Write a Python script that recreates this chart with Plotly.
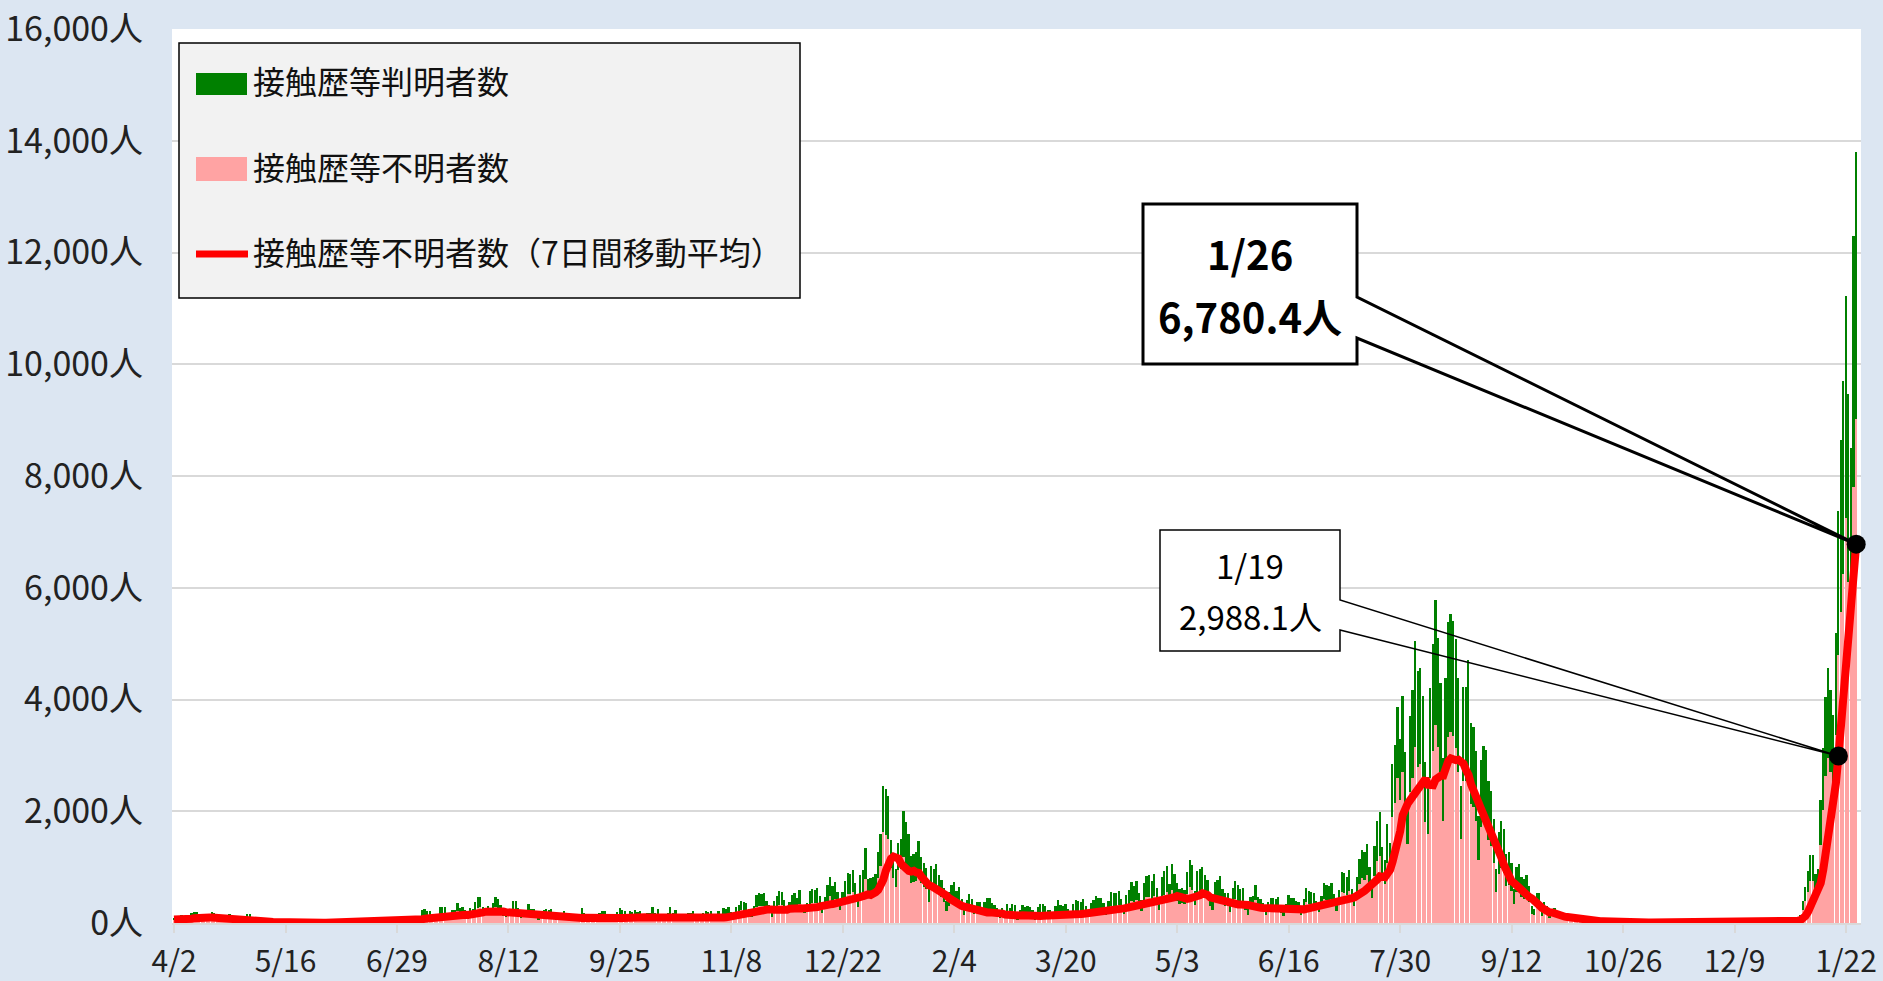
import numpy as np
import pandas as pd
import plotly.graph_objects as go

# ---------------- data ----------------
start_date = "2020-04-02"

# daily total new cases (known + unknown), by month
total_2020 = [
    97, 89, 116, 143, 83, 87, 144, 178, 189, 197, 166, 91, 161, 127, 149, 201, 181, 107, 102, 123, 132, 134, 161, 103, 72, 39, 112, 47, 46,
    165, 154, 91, 87, 57, 38, 23, 39, 36, 22, 15, 28, 10, 30, 9, 14, 5, 10, 5, 5, 11, 3, 2, 14, 8, 10, 11, 15, 22, 14, 5,
    13, 34, 12, 28, 20, 26, 14, 13, 12, 18, 22, 25, 24, 47, 48, 27, 16, 41, 35, 39, 35, 29, 31, 55, 48, 54, 57, 60, 58, 54,
    67, 107, 124, 131, 111, 102, 106, 75, 224, 243, 206, 206, 119, 143, 165, 286, 293, 290, 188, 168, 237, 238, 366, 260, 295, 239, 131, 266, 250, 367, 463,
    472, 292, 258, 309, 263, 360, 462, 429, 331, 197, 188, 222, 206, 389, 385, 260, 161, 207, 186, 339, 258, 256, 212, 95, 182, 236, 250, 226, 247, 148, 100,
    170, 141, 211, 136, 181, 116, 77, 170, 149, 276, 187, 146, 146, 80, 163, 163, 171, 220, 218, 156, 98, 88, 59, 195, 270, 226, 209, 78, 212, 194,
    235, 196, 207, 143, 78, 179, 178, 285, 187, 247, 146, 85, 166, 177, 284, 185, 235, 78, 78, 139, 150, 186, 186, 215, 124, 102, 158, 171, 221, 203, 215,
    87, 87, 209, 122, 269, 242, 294, 189, 157, 293, 317, 393, 374, 352, 255, 180, 298, 493, 534, 522, 539, 391, 314, 186, 401, 481, 570, 561, 418, 311,
    372, 500, 533, 449, 584, 327, 299, 352, 572, 602, 595, 621, 480, 305, 460, 678, 822, 664, 736, 556, 392, 563, 748, 888, 884, 949, 708, 481, 856, 944, 1337,
]
total_2021 = [
    783, 814, 816, 884, 1278, 1591, 2447, 2392, 2268, 1494, 1219, 970, 1433, 1502, 2001, 1809, 1592, 1204, 1240, 1274, 1471, 1175, 1070, 986, 618, 1026, 973, 1064, 868, 769, 633,
    393, 556, 676, 734, 577, 639, 429, 276, 412, 517, 434, 307, 369, 371, 266, 378, 445, 445, 353, 327, 272, 178, 275, 213, 340, 270, 337, 329,
    121, 232, 316, 279, 301, 293, 237, 116, 290, 340, 335, 304, 239, 239, 175, 300, 409, 323, 303, 342, 256, 187, 337, 420, 394, 376, 430, 313, 234, 364, 414,
    475, 440, 446, 355, 249, 399, 555, 545, 537, 570, 421, 306, 510, 591, 729, 667, 759, 543, 405, 711, 843, 861, 759, 876, 635, 425, 828, 925, 1027, 698,
    1050, 879, 708, 609, 621, 591, 907, 1121, 1032, 573, 925, 969, 1010, 854, 772, 542, 419, 732, 766, 843, 614, 539, 535, 340, 620, 743, 684, 614, 629, 402, 260,
    471, 487, 676, 472, 436, 351, 235, 369, 440, 439, 435, 467, 304, 209, 337, 501, 452, 453, 388, 376, 236, 435, 619, 570, 562, 534, 386, 317, 476, 714,
    673, 660, 716, 518, 342, 593, 920, 896, 822, 950, 614, 502, 830, 1149, 1308, 1271, 1410, 1008, 727, 1387, 1832, 1979, 1359, 1128, 1763, 1429, 2848, 3177, 3865, 3300, 4058,
    3058, 2195, 3709, 4166, 5042, 4515, 4566, 4066, 2884, 2612, 4200, 4989, 5773, 5094, 4295, 2962, 4377, 5386, 5534, 5405, 5074, 4392, 2447, 4220, 4228, 4704, 3581, 3500, 3081, 1915, 2909,
    3168, 3099, 2539, 2362, 1853, 968, 1629, 1834, 1675, 1242, 1273, 1067, 611, 1004, 1052, 831, 782, 862, 661, 302, 253, 537, 531, 235, 382, 302, 154, 248, 267, 218,
    200, 196, 161, 87, 149, 144, 143, 138, 82, 60, 49, 77, 72, 62, 57, 66, 40, 29, 36, 41, 36, 26, 32, 19, 17, 29, 36, 21, 24, 23, 22,
    9, 18, 18, 21, 20, 30, 25, 15, 24, 22, 31, 27, 21, 23, 6, 18, 24, 25, 19, 22, 9, 6, 18, 10, 11, 21, 15, 17, 13, 9,
    10, 15, 20, 21, 14, 13, 12, 21, 17, 23, 22, 10, 11, 13, 14, 18, 25, 23, 15, 23, 21, 26, 27, 37, 38, 31, 30, 46, 76, 64, 78,
]
total_2022 = [
    79, 84, 103, 151, 390, 641, 922, 1224, 1223, 871, 962, 2198, 3124, 4051, 4561, 4172, 3719, 5185, 7377, 8638, 9699, 11227, 9468, 8503, 12300, 13800,
]

# daily cases with unknown contact history, by month
unknown_2020 = [
    61, 57, 75, 95, 52, 55, 90, 112, 123, 125, 106, 58, 100, 80, 94, 126, 113, 66, 62, 76, 80, 84, 98, 63, 44, 24, 68, 28, 28,
    95, 88, 52, 48, 32, 21, 13, 22, 19, 12, 8, 15, 6, 16, 5, 7, 3, 5, 3, 2, 5, 1, 1, 7, 4, 5, 5, 8, 12, 7, 3,
    6, 14, 5, 12, 9, 11, 6, 6, 5, 8, 10, 11, 10, 19, 20, 12, 7, 18, 15, 17, 15, 13, 14, 25, 21, 25, 26, 28, 27, 25,
    34, 55, 65, 70, 58, 55, 60, 42, 120, 130, 112, 115, 66, 78, 92, 158, 165, 162, 105, 95, 135, 136, 210, 150, 170, 140, 76, 155, 148, 215, 275,
    285, 180, 160, 188, 160, 218, 280, 262, 200, 120, 113, 133, 125, 235, 232, 158, 97, 124, 112, 205, 155, 153, 128, 57, 108, 140, 150, 136, 148, 89, 60,
    98, 80, 120, 78, 103, 66, 44, 97, 85, 155, 107, 83, 84, 46, 93, 93, 97, 125, 124, 89, 56, 50, 34, 111, 154, 129, 119, 44, 121, 110,
    134, 112, 118, 82, 44, 102, 101, 162, 107, 141, 83, 48, 95, 101, 162, 105, 134, 44, 45, 79, 86, 106, 106, 123, 71, 58, 90, 97, 126, 116, 123,
    50, 50, 119, 70, 153, 138, 168, 108, 89, 167, 181, 224, 213, 201, 145, 103, 170, 281, 304, 298, 307, 223, 179, 106, 229, 274, 325, 320, 238, 177,
    220, 295, 315, 265, 345, 193, 176, 208, 338, 355, 351, 366, 283, 180, 271, 400, 485, 392, 434, 328, 231, 332, 441, 524, 522, 560, 418, 284, 505, 557, 790,
]
unknown_2021 = [
    470, 490, 500, 545, 800, 1020, 1630, 1580, 1500, 980, 800, 640, 940, 960, 1180, 1060, 940, 720, 730, 750, 900, 720, 650, 600, 375, 620, 585, 640, 520, 460, 380,
    220, 300, 360, 390, 305, 335, 225, 145, 215, 265, 225, 160, 190, 190, 138, 195, 230, 228, 180, 168, 140, 92, 142, 110, 175, 140, 172, 168,
    58, 110, 150, 135, 145, 140, 112, 55, 138, 162, 160, 145, 115, 113, 84, 143, 195, 155, 145, 165, 123, 90, 163, 205, 192, 183, 210, 153, 115, 180, 205,
    255, 240, 245, 195, 135, 218, 305, 300, 295, 315, 230, 168, 280, 325, 400, 367, 418, 300, 222, 390, 462, 472, 418, 480, 350, 233, 455, 507, 563, 383,
    590, 495, 400, 343, 350, 332, 515, 640, 590, 325, 528, 553, 578, 487, 440, 308, 238, 418, 436, 480, 350, 307, 305, 193, 353, 425, 390, 350, 358, 229, 148,
    280, 290, 405, 283, 262, 210, 140, 222, 265, 263, 260, 280, 183, 125, 202, 300, 272, 272, 233, 226, 142, 262, 372, 342, 337, 320, 232, 190, 286, 428,
    405, 400, 435, 315, 208, 362, 560, 545, 500, 580, 375, 305, 505, 700, 800, 775, 860, 615, 445, 845, 1115, 1200, 830, 690, 1080, 880, 1900, 2150, 2600, 2200, 2700,
    2000, 1420, 2350, 2600, 3150, 2800, 2850, 2520, 1800, 1600, 2600, 3080, 3550, 3150, 2650, 1830, 2700, 3330, 3420, 3340, 3130, 2700, 1500, 2540, 2540, 2800, 2130, 2080, 1830, 1130, 1720,
    1850, 1800, 1480, 1370, 1070, 560, 880, 980, 900, 660, 680, 570, 340, 560, 590, 465, 435, 480, 370, 168, 140, 300, 295, 130, 212, 168, 86, 138, 148, 120,
    108, 105, 86, 46, 78, 75, 74, 71, 42, 31, 25, 40, 37, 32, 29, 34, 20, 15, 18, 21, 18, 13, 16, 10, 9, 15, 18, 11, 12, 12, 11,
    5, 9, 9, 11, 10, 15, 13, 8, 12, 11, 16, 14, 11, 12, 3, 9, 12, 13, 10, 11, 5, 3, 9, 5, 6, 11, 8, 9, 7, 5,
    5, 8, 10, 11, 7, 7, 6, 11, 9, 12, 11, 5, 6, 7, 7, 9, 13, 12, 8, 12, 11, 14, 14, 20, 21, 17, 17, 26, 42, 36, 44,
]
unknown_2022 = [
    40, 42, 55, 85, 230, 390, 560, 760, 760, 540, 600, 1400, 2030, 2630, 2960, 2710, 2420, 3370, 4797, 5560, 6250, 7240, 6100, 5490, 7800, 9023,
]

series_names = ["接触歴等判明者数", "接触歴等不明者数", "接触歴等不明者数（7日間移動平均）"]
tick_labels = ["4/2", "5/16", "6/29", "8/12", "9/25", "11/8", "12/22", "2/4",
               "3/20", "5/3", "6/16", "7/30", "9/12", "10/26", "12/9", "1/22"]
tick_step = 44
y_ticks = [0, 2000, 4000, 6000, 8000, 10000, 12000, 14000, 16000]
y_unit = "人"
callout_dates = ["2022-01-19", "2022-01-26"]

# ---------------- derived ----------------
total = np.array(total_2020 + total_2021 + total_2022)
unknown = np.array(unknown_2020 + unknown_2021 + unknown_2022)
known = total - unknown
n = len(total)
idx = np.arange(n)
dates = pd.date_range(start_date, periods=n, freq="D")
ma7 = pd.Series(unknown, dtype=float).rolling(7, min_periods=1).mean().to_numpy()

# ---------------- layout constants ----------------
W, H = 1883, 981
ML, MR, MT, MB = 172, 22, 29, 58
PW, PH = W - ML - MR, H - MT - MB
X0, X1 = -0.8, 665.9
Y0, Y1 = 0, 16000
FONT = "Noto Sans CJK JP"
GREEN = "#008000"
PINK = "#ffa3a3"
RED = "#ff0000"
GRID = "#d9d9d9"
BG = "#dce6f2"
TXT = "#222222"


def dx(px):
    return X0 + (px - ML) / PW * (X1 - X0)


def dy(py):
    return Y0 + (MT + PH - py) / PH * (Y1 - Y0)


def pxp(px):
    return (px - ML) / PW


def pyp(py):
    return (MT + PH - py) / PH


fig = go.Figure()
fig.add_trace(go.Bar(x=idx, y=unknown, name=series_names[1], marker=dict(color=PINK, line=dict(width=0)),
                     showlegend=False))
fig.add_trace(go.Bar(x=idx, y=known, name=series_names[0], marker=dict(color=GREEN, line=dict(width=0)),
                     showlegend=False))
fig.add_trace(go.Scatter(x=idx, y=ma7, mode="lines", name=series_names[2],
                         line=dict(color=RED, width=8), showlegend=False))

pts = [int(np.where(dates == pd.Timestamp(d))[0][0]) for d in callout_dates]
fig.add_trace(go.Scatter(x=pts, y=[ma7[i] for i in pts], mode="markers", cliponaxis=False,
                         marker=dict(color="black", size=19), showlegend=False, hoverinfo="skip"))

shapes = []
annotations = []

# ---- manual legend ----
shapes.append(dict(type="rect", xref="paper", yref="paper", x0=pxp(179), x1=pxp(800), y0=pyp(298), y1=pyp(43),
                   fillcolor="#f2f2f2", line=dict(color="black", width=1.5), layer="above"))
shapes.append(dict(type="rect", xref="paper", yref="paper", x0=pxp(196), x1=pxp(247), y0=pyp(95), y1=pyp(73),
                   fillcolor=GREEN, line=dict(width=0), layer="above"))
shapes.append(dict(type="rect", xref="paper", yref="paper", x0=pxp(196), x1=pxp(247), y0=pyp(181), y1=pyp(157),
                   fillcolor=PINK, line=dict(width=0), layer="above"))
shapes.append(dict(type="line", xref="paper", yref="paper", x0=pxp(196), x1=pxp(248), y0=pyp(254), y1=pyp(254),
                   line=dict(color=RED, width=7), layer="above"))
for name, py in zip(series_names, [80, 166, 251]):
    annotations.append(dict(xref="paper", yref="paper", x=pxp(251), y=pyp(py), xanchor="left", yanchor="middle",
                            text=name, showarrow=False, font=dict(family=FONT, size=32, color="#111111")))


# ---- callouts ----
def callout(box, bases, tip_i, lw, lines, size, bold, ys):
    L, T, R, B = dx(box[0]), dy(box[1]), dx(box[2]), dy(box[3])
    b1, b2 = dy(bases[0]), dy(bases[1])
    tx, ty = tip_i, ma7[tip_i]
    shapes.append(dict(type="rect", xref="x", yref="y", x0=L, x1=R, y0=B, y1=T,
                       fillcolor="white", line=dict(width=0), layer="above"))
    path = (f"M{L},{T} L{R},{T} L{R},{b1} L{tx},{ty} L{R},{b2} L{R},{B} L{L},{B} Z")
    shapes.append(dict(type="path", xref="x", yref="y", path=path, fillcolor="rgba(0,0,0,0)",
                       line=dict(color="black", width=lw), layer="above"))
    cx = (box[0] + box[2]) / 2
    for txt, py in zip(lines, ys):
        t = f"<b>{txt}</b>" if bold else txt
        annotations.append(dict(xref="paper", yref="paper", x=pxp(cx), y=pyp(py), xanchor="center",
                                yanchor="middle", text=t, showarrow=False,
                                font=dict(family=FONT, size=size, color="black")))


def lab(i):
    d = dates[i]
    return f"{d.month}/{d.day}", f"{ma7[i]:,.1f}{y_unit}"


callout((1160, 530, 1340, 651), (600, 630), pts[0], 1.5, lab(pts[0]), 33, False, [565, 616])
callout((1143, 204, 1357, 364), (297, 338), pts[1], 3, lab(pts[1]), 40, True, [253, 316])

fig.update_layout(
    width=W, height=H,
    margin=dict(l=ML, r=MR, t=MT, b=MB, pad=0, autoexpand=False),
    paper_bgcolor=BG, plot_bgcolor="white",
    barmode="stack", bargap=0.3,
    showlegend=False,
    shapes=shapes, annotations=annotations,
    font=dict(family=FONT, color=TXT),
)
fig.update_xaxes(
    range=[X0, X1], tickmode="array", automargin=False,
    tickvals=list(range(0, n, tick_step))[:len(tick_labels)], ticktext=tick_labels,
    ticks="outside", ticklen=8, tickwidth=1.5, tickcolor=GRID,
    showgrid=False, zeroline=False, showline=True, linecolor=GRID, linewidth=1.5,
    tickfont=dict(family=FONT, size=30, color=TXT), ticklabelstandoff=3,
)
fig.update_yaxes(
    range=[Y0, Y1], tickmode="array", automargin=False, tickvals=y_ticks,
    ticktext=[f"{v:,}{y_unit}" for v in y_ticks],
    showgrid=True, gridcolor=GRID, gridwidth=1.5, zeroline=False, ticks="",
    tickfont=dict(family=FONT, size=34, color=TXT), ticklabelstandoff=28,
)

fig.write_html("out.html", config={"displayModeBar": False},
               post_script="document.body.style.margin='0';document.body.style.overflow='hidden';")
